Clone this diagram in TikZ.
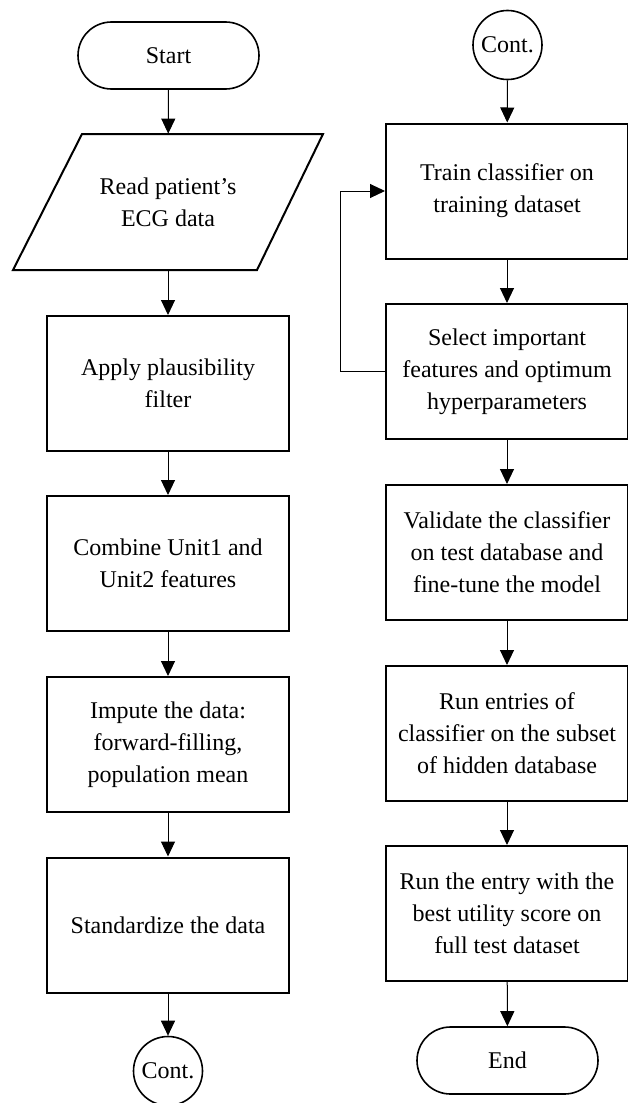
\documentclass[tikz,border=0pt]{standalone}
\usepackage{fontspec}
\setmainfont{Liberation Serif}
\usetikzlibrary{arrows.meta}
\tikzset{
  stepbox/.style={draw, line width=1pt, minimum width=121pt, minimum height=67.5pt, align=center, inner sep=2pt},
  termbox/.style={draw, line width=0.8pt, rounded corners=16.75pt, minimum width=90.5pt, minimum height=33.5pt},
  contnode/.style={draw, line width=0.8pt, circle, minimum size=34.5pt, inner sep=0pt},
  flow/.style={line width=0.5pt, -{Triangle[width=7pt,length=7.5pt]}}
}

\begin{document}
\begin{tikzpicture}[x=0.5pt, y=-0.5pt, font=\fontsize{12}{16}\selectfont]
			%%%%% START %%%%%
			\useasboundingbox (0, 0) rectangle (627, 1103);
			
			% left column
			\node[termbox] (start) at (168.5, 55.5) {Start};
			\draw[line width=1pt] (13, 270) -- (82, 134) -- (323, 134) -- (257, 270) -- cycle;
			\node[minimum height=68pt, align=center] (readecg) at (168, 202) {Read patient's\\ECG data};
			\node[stepbox] (plaus) at (168, 383.5) {Apply plausibility\\filter};
			\node[stepbox] (combine) at (168, 563.5) {Combine Unit1 and\\Unit2 features};
			\node[stepbox] (impute) at (168, 744.5) {Impute the data:\\forward-filling,\\population mean};
			\node[stepbox] (standard) at (168, 925) {Standardize the data};
			\node[contnode] (contA) at (168, 1071) {Cont.};
			
			\draw[flow] (start) -- (readecg);
			\draw[flow] (readecg) -- (plaus);
			\draw[flow] (plaus) -- (combine);
			\draw[flow] (combine) -- (impute);
			\draw[flow] (impute) -- (standard);
			\draw[flow] (standard) -- (contA);
			
			% right column
			\node[contnode] (contB) at (507.5, 45) {Cont.};
			\node[stepbox] (train) at (507, 191) {Train classifier on\\training dataset};
			\node[stepbox] (select) at (507, 371.5) {Select important\\features and optimum\\hyperparameters};
			\node[stepbox] (valid) at (507, 552.5) {Validate the classifier\\on test database and\\fine-tune the model};
			\node[stepbox] (runsub) at (507, 733.5) {Run entries of\\classifier on the subset\\of hidden database};
			\node[stepbox] (runbest) at (507, 913.5) {Run the entry with the\\best utility score on\\full test dataset};
			\node[termbox] (finish) at (507.5, 1060.5) {End};
			
			\draw[flow] (contB) -- (train);
			\draw[flow] (train) -- (select);
			\draw[flow] (select) -- (valid);
			\draw[flow] (valid) -- (runsub);
			\draw[flow] (runsub) -- (runbest);
			\draw[flow] (runbest) -- (finish);
			
			% feedback loop
			\draw[flow] (select.west) -- ++(-45, 0) |- (train.west);
			
			%%%%% END %%%%%
\end{tikzpicture}
\end{document}
